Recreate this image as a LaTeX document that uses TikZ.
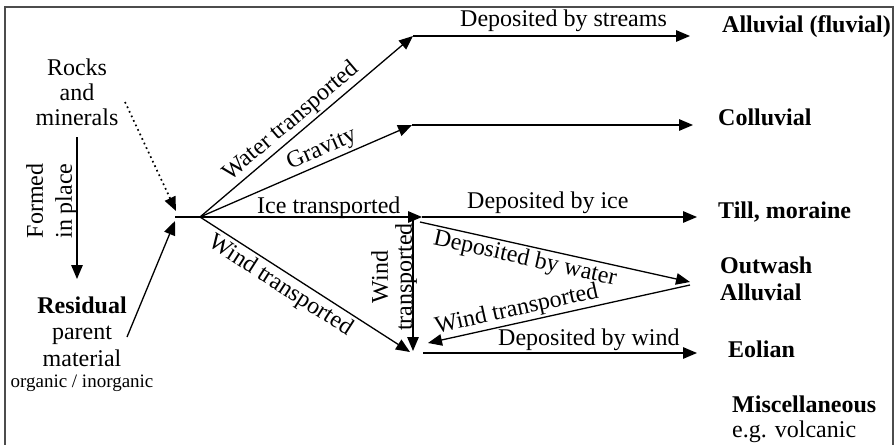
\documentclass[tikz,border=0pt]{standalone}
\usepackage{fontspec}
\setmainfont{Liberation Serif}
\usetikzlibrary{arrows.meta}
\begin{document}
\begin{tikzpicture}[x=1pt,y=-1pt,
  lbl/.style={font=\fontsize{24}{26}\selectfont, inner sep=0pt},
  small/.style={font=\fontsize{19}{20}\selectfont, inner sep=0pt},
  res/.style={font=\fontsize{24}{26}\selectfont\bfseries, inner sep=0pt, anchor=base west},
  arr/.style={line width=1.3pt, -{Triangle[length=14pt,width=11.5pt]}},
  ln/.style={line width=1.3pt},
  frame/.style={line width=1.6pt, draw=black!70}]
\useasboundingbox (0,0) rectangle (896,444);
% frame
\coordinate (fbl) at (5,460);
\coordinate (ftl) at (5,7);
\coordinate (ftr) at (893,7);
\coordinate (fbr) at (893,460);
\draw[frame] (fbl) -- (ftl) -- (ftr) -- (fbr);

% key points
\coordinate (hub) at (200,217);
\coordinate (hubL) at (175,217);
\coordinate (dotS) at (125,102);
\coordinate (dotT) at (176,211);
\coordinate (resS) at (127,337);
\coordinate (resT) at (175,221);
\coordinate (fTop) at (77,137);
\coordinate (fTip) at (77,279);
\coordinate (wT) at (413,36);
\coordinate (sEnd) at (690,36);
\coordinate (gT) at (412,125);
\coordinate (cEnd) at (693,125);
\coordinate (iT) at (422,217);
\coordinate (tEnd) at (697,217);
\coordinate (vTop) at (413,219);
\coordinate (vTip) at (413,351);
\coordinate (wdT) at (410,352);
\coordinate (dwS) at (420,222);
\coordinate (owT) at (690,282);
\coordinate (rwS) at (690,285);
\coordinate (rwT) at (428,343);
\coordinate (eS) at (423,353);
\coordinate (eEnd) at (697,353);

% left texts
\node[lbl, anchor=base] (rocks) at (77,75) {Rocks};
\node[lbl, anchor=base] (and) at (77,100) {and};
\node[lbl, anchor=base] (minerals) at (77,125) {minerals};
\node[font=\fontsize{24}{29}\selectfont, inner sep=0pt, rotate=90, align=center] (formed) at (51.5,201) {Formed\\in place};
\node[lbl, anchor=base, font=\fontsize{24}{26}\selectfont\bfseries] (residual) at (82,313) {Residual};
\node[lbl, anchor=base] (parent) at (82,339) {parent};
\node[lbl, anchor=base] (material) at (82,366) {material};
\node[small, anchor=base] (organic) at (82,387) {organic / inorganic};

% left connectors
\draw[arr] (fTop) -- (fTip);
\draw[arr, line width=1.7pt, dash pattern=on 1.7pt off 3.3pt] (dotS) -- (dotT);
\draw[arr] (resS) -- (resT);
\draw[ln] (hubL) -- (hub);

% fan
\draw[arr] (hub) -- node[lbl, sloped, above, pos=0.47, inner sep=2pt] (wlab) {Water transported} (wT);
\draw[arr] (hub) -- node[lbl, sloped, above, pos=0.6, inner sep=2pt] (glab) {Gravity} (gT);
\draw[arr] (hub) -- (iT);
\node[lbl, anchor=base west] (ilab) at (257,213) {Ice transported};
\draw[arr] (hub) -- node[lbl, sloped, below, pos=0.42, inner sep=3pt] (wdlab) {Wind transported} (wdT);

% second stage
\draw[arr] (wT) -- (sEnd);
\node[lbl, anchor=base west] (dslab) at (460,27) {Deposited by streams};
\draw[arr] (gT) -- (cEnd);
\draw[arr] (iT) -- (tEnd);
\node[lbl, anchor=base west] (dilab) at (467,208) {Deposited by ice};
\draw[arr] (vTop) -- (vTip);
\node[font=\fontsize{24}{24}\selectfont, inner sep=0pt, rotate=90, align=center] (vlab) at (394,277) {Wind\\transported};
\draw[arr] (dwS) -- node[lbl, sloped, below, pos=0.4, inner sep=2pt] (dwlab) {Deposited by water} (owT);
\draw[arr] (rwS) -- (rwT);
\path (rwT) -- node[lbl, sloped, above, pos=0.35, inner sep=2pt] (rwlab) {Wind transported} (rwS);
\draw[arr] (eS) -- (eEnd);
\node[lbl, anchor=base west] (dwindlab) at (498,345) {Deposited by wind};

% results
\node[res] (alluv) at (722,33) {Alluvial (fluvial)};
\node[res] (colluv) at (718,125) {Colluvial};
\node[res] (till) at (718,218) {Till, moraine};
\node[res] (outwash) at (720,273) {Outwash};
\node[res] (alluv2) at (720,300) {Alluvial};
\node[res] (eolian) at (728,357) {Eolian};
\node[res] (misc) at (732,412) {Miscellaneous};
\node[lbl, anchor=base west] (volc) at (732,437) {e.g. volcanic};
\end{tikzpicture}
\end{document}
